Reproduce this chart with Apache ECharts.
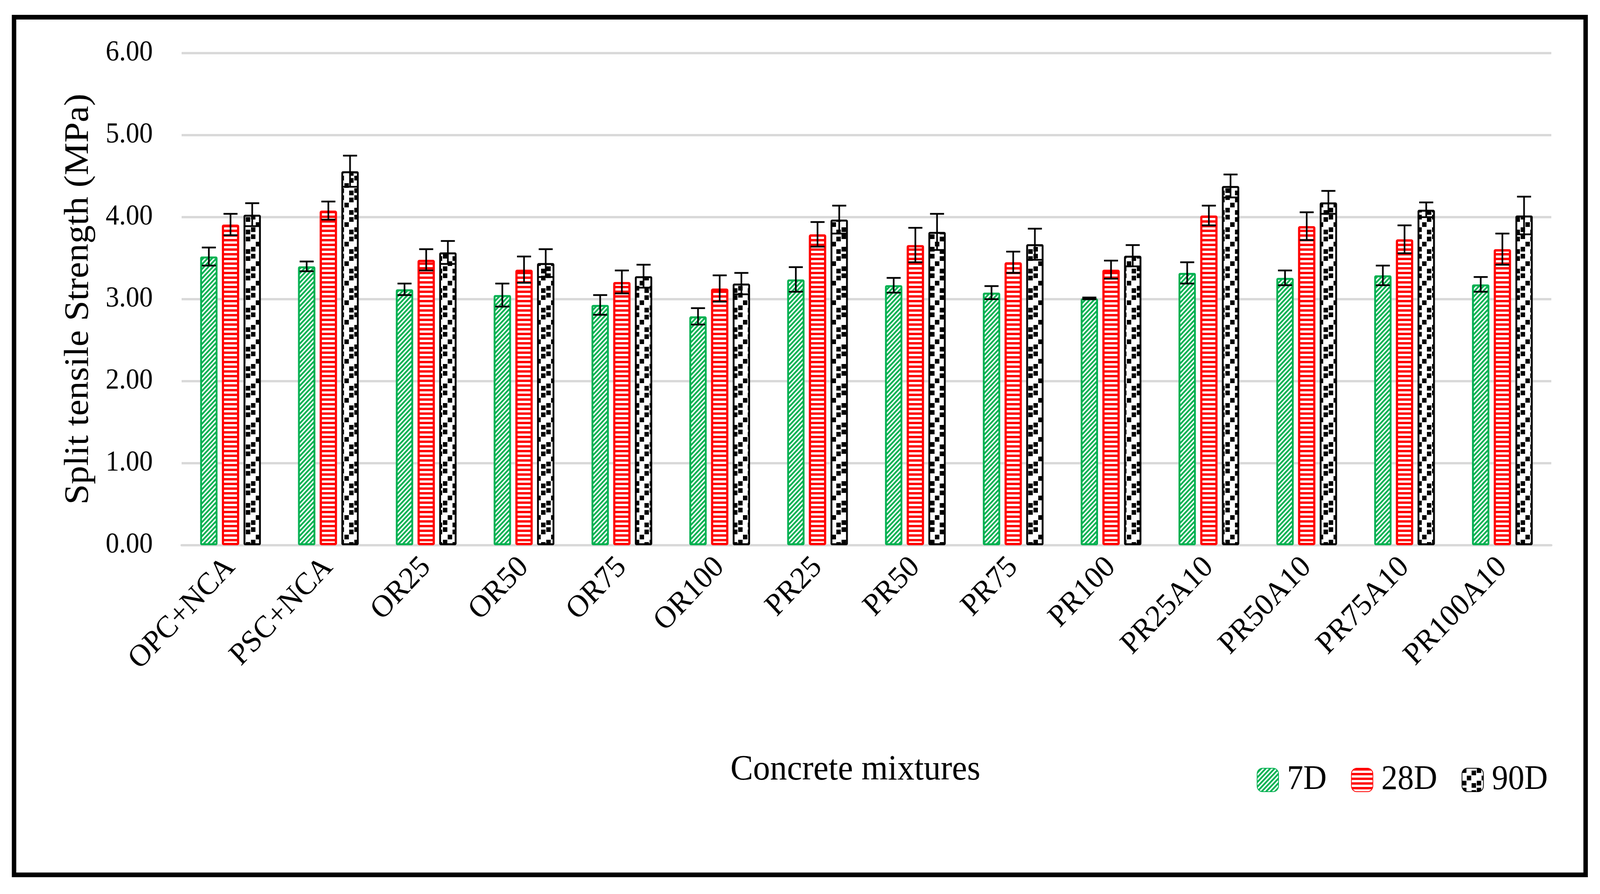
<!DOCTYPE html>
<html>
<head>
<meta charset="utf-8">
<script src="https://cdn.jsdelivr.net/npm/echarts@6/dist/echarts.min.js"></script>
<style>
html,body{margin:0;padding:0;background:#fff;overflow:hidden;width:100%;height:100%;}
#chart{width:4335px;height:2289px;transform-origin:0 0;position:absolute;left:0;top:0;}
</style>
</head>
<body>
<div id="chart"></div>
<script>
// ---- data ----
const categories = ['OPC+NCA','PSC+NCA','OR25','OR50','OR75','OR100','PR25','PR50','PR75','PR100','PR25A10','PR50A10','PR75A10','PR100A10'];
const seriesNames = ['7D','28D','90D'];
const d7  = [3.52, 3.40, 3.12, 3.05, 2.93, 2.79, 3.24, 3.17, 3.08, 3.01, 3.32, 3.26, 3.29, 3.18];
const d28 = [3.91, 4.08, 3.48, 3.36, 3.21, 3.13, 3.79, 3.66, 3.45, 3.36, 4.02, 3.89, 3.73, 3.61];
const d90 = [4.03, 4.56, 3.57, 3.44, 3.28, 3.19, 3.97, 3.82, 3.67, 3.53, 4.38, 4.18, 4.09, 4.02];
const sd7  = [0.11, 0.06, 0.07, 0.14, 0.12, 0.10, 0.15, 0.09, 0.08, 0.01, 0.13, 0.09, 0.12, 0.09];
const sd28 = [0.13, 0.11, 0.13, 0.16, 0.14, 0.16, 0.15, 0.21, 0.13, 0.11, 0.12, 0.17, 0.17, 0.19];
const sd90 = [0.14, 0.19, 0.14, 0.17, 0.14, 0.13, 0.17, 0.22, 0.19, 0.13, 0.14, 0.14, 0.09, 0.23];
const yTicks = [0, 1, 2, 3, 4, 5, 6];

// ---- fit the 4335 x 2289 design into the actual viewport ----
const el = document.getElementById('chart');
const vw = document.documentElement.clientWidth || window.innerWidth;
const vh = document.documentElement.clientHeight || window.innerHeight;
el.style.transform = 'scale(' + (vw / 4335) + ',' + (vh / 2289) + ')';

// ---- patterns ----
function tile(w, h, draw) {
  const c = document.createElement('canvas');
  c.width = w; c.height = h;
  const ctx = c.getContext('2d');
  ctx.fillStyle = '#fff';
  ctx.fillRect(0, 0, w, h);
  draw(ctx);
  return c;
}
const GREEN = '#00B050', RED = '#FF0000', BLACK = '#000000';
const greenTile = tile(12, 12, ctx => {
  ctx.strokeStyle = GREEN; ctx.lineWidth = 4.5;
  for (let k = -1; k <= 3; k++) {
    ctx.beginPath();
    ctx.moveTo(k * 12 - 14, 14);
    ctx.lineTo(k * 12 + 2, -2);
    ctx.stroke();
  }
});
const redTile = tile(12, 12, ctx => {
  ctx.fillStyle = RED; ctx.fillRect(0, 0, 12, 6);
});
const blackTile = tile(40, 50, ctx => {
  ctx.fillStyle = BLACK;
  [[0,0],[26,6],[13,19],[0,32],[26,38]].forEach(p => ctx.fillRect(p[0], p[1], 12, 12));
});

const barWidth = 47;
const barGapRatio = 0.25;
const step = barWidth * (1 + barGapRatio);

const fillers = [
  {color: {image: greenTile, repeat: 'repeat'}, border: GREEN, bw: 5},
  {color: {image: redTile, repeat: 'repeat'}, border: RED, bw: 6},
  {color: {image: blackTile, repeat: 'repeat'}, border: BLACK, bw: 5}
];
const values = [d7, d28, d90];
const errs = [sd7, sd28, sd90];

const barSeries = seriesNames.map((name, i) => ({
  name: name,
  type: 'bar',
  data: values[i],
  barWidth: barWidth,
  barGap: (barGapRatio * 100) + '%',
  itemStyle: {
    color: fillers[i].color,
    borderColor: fillers[i].border,
    borderWidth: fillers[i].bw,
    borderRadius: 2
  },
  emphasis: {disabled: true}
}));

const errSeries = seriesNames.map((name, i) => ({
  name: name + ' err',
  type: 'custom',
  z: 10,
  data: values[i].map((v, j) => [j, v, errs[i][j]]),
  renderItem: function (params, api) {
    const ci = api.value(0), v = api.value(1), e = api.value(2);
    const top = api.coord([ci, v + e]);
    const bot = api.coord([ci, v - e]);
    const x = top[0] + (i - 1) * step;
    const hw = 19;
    const st = {stroke: '#000', lineWidth: 4.5};
    return {
      type: 'group',
      children: [
        {type: 'line', shape: {x1: x, y1: top[1], x2: x, y2: bot[1]}, style: st},
        {type: 'line', shape: {x1: x - hw, y1: top[1], x2: x + hw, y2: top[1]}, style: st},
        {type: 'line', shape: {x1: x - hw, y1: bot[1], x2: x + hw, y2: bot[1]}, style: st}
      ]
    };
  }
}));

const FONT = 'Liberation Serif';
const chart = echarts.init(el, null, {width: 4335, height: 2289});
chart.setOption({
  backgroundColor: '#fff',
  animation: false,
  grid: {left: 492, right: 132, top: 136, bottom: 893, containLabel: false},
  legend: {
    data: seriesNames,
    left: 3400,
    top: 1948,
    itemWidth: 58,
    itemHeight: 60,
    itemGap: 66,
    textStyle: {fontFamily: FONT, fontSize: 88, color: '#000', padding: [0, 0, 0, 18]}
  },
  xAxis: {
    type: 'category',
    data: categories,
    name: 'Concrete mixtures',
    nameLocation: 'middle',
    nameGap: 530,
    nameTextStyle: {fontFamily: FONT, fontSize: 92, color: '#000', padding: [0, 60, 0, 0]},
    axisLine: {show: true, lineStyle: {color: '#D9D9D9', width: 6}},
    axisTick: {show: false},
    axisLabel: {interval: 0, rotate: 45, margin: 44, fontFamily: FONT, fontSize: 80, color: '#000'}
  },
  yAxis: {
    type: 'value',
    min: yTicks[0],
    max: yTicks[yTicks.length - 1],
    interval: 1,
    name: 'Split tensile Strength (MPa)',
    nameLocation: 'middle',
    nameGap: 232,
    nameTextStyle: {fontFamily: FONT, fontSize: 94, color: '#000'},
    axisLine: {show: false},
    axisTick: {show: false},
    splitLine: {show: true, lineStyle: {color: '#D9D9D9', width: 6}},
    axisLabel: {margin: 78, fontFamily: FONT, fontSize: 73, color: '#000', formatter: v => v.toFixed(2)}
  },
  series: barSeries.concat(errSeries),
  graphic: [{
    type: 'rect',
    shape: {x: 38, y: 44, width: 4258, height: 2196},
    style: {fill: 'none', stroke: '#000', lineWidth: 12},
    silent: true
  }]
});
</script>
</body>
</html>
